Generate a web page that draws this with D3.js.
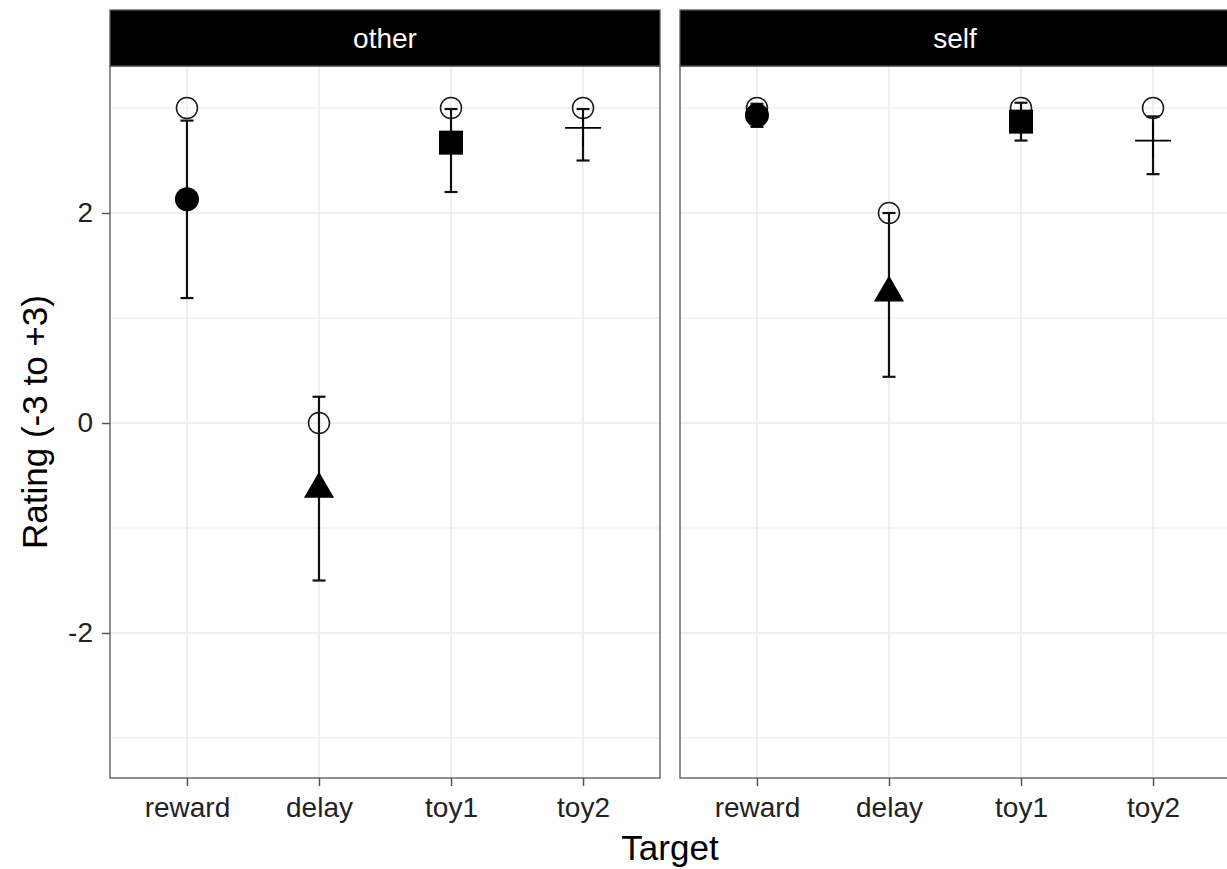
<!DOCTYPE html>
<html>
<head>
<meta charset="utf-8">
<script src="https://cdn.jsdelivr.net/npm/d3@7"></script>
<style>
  html, body { margin: 0; padding: 0; background: #fff; }
  svg { display: block; }
  text { font-family: "Liberation Sans", Arial, Helvetica, sans-serif; }
</style>
</head>
<body>
<svg id="chart" width="1227" height="869"></svg>
<script>
// ---- data ----
const targets = ["reward", "delay", "toy1", "toy2"];
const facets = ["other", "self"];
const yTicks = [-2, 0, 2];
const yMinor = [-3, -1, 1, 3];
// open circles (max/median rating)
const maxOther = [3, 0, 3, 3];
const maxSelf = [3, 2, 3, 3];
// means
const meanOther = [2.13, -0.63, 2.67, 2.81];
const meanSelf = [2.93, 1.24, 2.87, 2.69];
// error bar limits
const lowOther = [1.19, -1.50, 2.20, 2.50];
const lowSelf = [2.82, 0.44, 2.69, 2.37];
const highOther = [2.88, 0.25, 2.99, 2.99];
const highSelf = [3.04, 2.00, 3.05, 2.92];

const facetData = {
  other: { max: maxOther, mean: meanOther, low: lowOther, high: highOther },
  self: { max: maxSelf, mean: meanSelf, low: lowSelf, high: highSelf }
};

// ---- layout ----
const svg = d3.select("#chart");
const panelTop = 66, panelBottom = 778;
const stripTop = 10;
const panelW = 550;
const panelX = [110, 680];

const y = d3.scaleLinear().domain([-3.381, 3.4]).range([panelBottom, panelTop]);
const x = d3.scalePoint().domain(targets).range([0, panelW]).padding(0.583);

const gridCol = "#ebebeb";
const borderCol = "#555";
const tickFont = 28;

facets.forEach((f, fi) => {
  const g = svg.append("g").attr("transform", `translate(${panelX[fi]},0)`);
  const d = facetData[f];

  // gridlines
  g.selectAll(".minor").data(yMinor).enter().append("line")
    .attr("x1", 0).attr("x2", panelW)
    .attr("y1", v => y(v)).attr("y2", v => y(v))
    .attr("stroke", gridCol).attr("stroke-width", 1);
  g.selectAll(".major").data(yTicks).enter().append("line")
    .attr("x1", 0).attr("x2", panelW)
    .attr("y1", v => y(v)).attr("y2", v => y(v))
    .attr("stroke", gridCol).attr("stroke-width", 1.5);
  g.selectAll(".vmajor").data(targets).enter().append("line")
    .attr("x1", t => x(t)).attr("x2", t => x(t))
    .attr("y1", panelTop).attr("y2", panelBottom)
    .attr("stroke", gridCol).attr("stroke-width", 1.5);

  // x axis
  const xAxis = g.append("g").attr("transform", `translate(0,${panelBottom})`)
    .call(d3.axisBottom(x).tickSize(8).tickPadding(11));
  xAxis.select(".domain").remove();
  xAxis.selectAll(".tick line").attr("stroke", "#555").attr("stroke-width", 1.5);
  xAxis.selectAll(".tick text").attr("font-size", tickFont).attr("fill", "#222")
    .attr("font-family", "Liberation Sans, Arial, sans-serif");

  // y axis (only first panel)
  if (fi === 0) {
    const yAxis = g.append("g")
      .call(d3.axisLeft(y).tickValues(yTicks).tickSize(8).tickPadding(9)
        .tickFormat(v => String(v)));
    yAxis.select(".domain").remove();
    yAxis.selectAll(".tick line").attr("stroke", "#555").attr("stroke-width", 1.5);
    yAxis.selectAll(".tick text").attr("font-size", tickFont).attr("fill", "#222")
      .attr("font-family", "Liberation Sans, Arial, sans-serif");
  }

  // error bars
  const capW = 13;
  targets.forEach((t, i) => {
    const cx = x(t);
    g.append("line").attr("x1", cx).attr("x2", cx)
      .attr("y1", y(d.low[i])).attr("y2", y(d.high[i]))
      .attr("stroke", "#111").attr("stroke-width", 2.2);
    [d.low[i], d.high[i]].forEach(v => {
      g.append("line").attr("x1", cx - capW / 2).attr("x2", cx + capW / 2)
        .attr("y1", y(v)).attr("y2", y(v))
        .attr("stroke", "#111").attr("stroke-width", 2.2);
    });
  });

  // open circles
  g.selectAll(".open").data(targets).enter().append("circle")
    .attr("cx", t => x(t)).attr("cy", (t, i) => y(d.max[i]))
    .attr("r", 10.5).attr("fill", "none")
    .attr("stroke", "#1a1a1a").attr("stroke-width", 1.5);

  // mean shapes
  targets.forEach((t, i) => {
    const cx = x(t), cy = y(d.mean[i]);
    if (t === "reward") {
      g.append("circle").attr("cx", cx).attr("cy", cy).attr("r", 12).attr("fill", "#000");
    } else if (t === "delay") {
      const h = 8.7;
      g.append("path")
        .attr("d", `M${cx},${cy - 2 * h} L${cx + Math.sqrt(3) * h},${cy + h} L${cx - Math.sqrt(3) * h},${cy + h} Z`)
        .attr("fill", "#000");
    } else if (t === "toy1") {
      g.append("rect").attr("x", cx - 12).attr("y", cy - 12)
        .attr("width", 24).attr("height", 24).attr("fill", "#000");
    } else {
      g.append("line").attr("x1", cx - 18).attr("x2", cx + 18)
        .attr("y1", cy).attr("y2", cy).attr("stroke", "#000").attr("stroke-width", 1.7);
      g.append("line").attr("x1", cx).attr("x2", cx)
        .attr("y1", cy - 18).attr("y2", cy + 18).attr("stroke", "#000").attr("stroke-width", 1.7);
    }
  });

  // panel border
  g.append("rect").attr("x", 0).attr("y", panelTop).attr("width", panelW)
    .attr("height", panelBottom - panelTop).attr("fill", "none")
    .attr("stroke", borderCol).attr("stroke-width", 1.3);

  // strip
  g.append("rect").attr("x", 0).attr("y", stripTop).attr("width", panelW)
    .attr("height", panelTop - stripTop).attr("fill", "#000")
    .attr("stroke", borderCol).attr("stroke-width", 1.3);
  g.append("text").attr("x", panelW / 2).attr("y", (stripTop + panelTop) / 2)
    .attr("dy", "0.35em").attr("text-anchor", "middle")
    .attr("fill", "#fff").attr("font-size", 28).text(f);
});

// axis titles
svg.append("text").attr("x", (panelX[0] + panelX[1] + panelW) / 2).attr("y", 860)
  .attr("text-anchor", "middle").attr("font-size", 35).attr("fill", "#000").text("Target");
svg.append("text")
  .attr("transform", `translate(47,${(panelTop + panelBottom) / 2}) rotate(-90)`)
  .attr("text-anchor", "middle").attr("font-size", 35).attr("fill", "#000")
  .text("Rating (-3 to +3)");
</script>
</body>
</html>
